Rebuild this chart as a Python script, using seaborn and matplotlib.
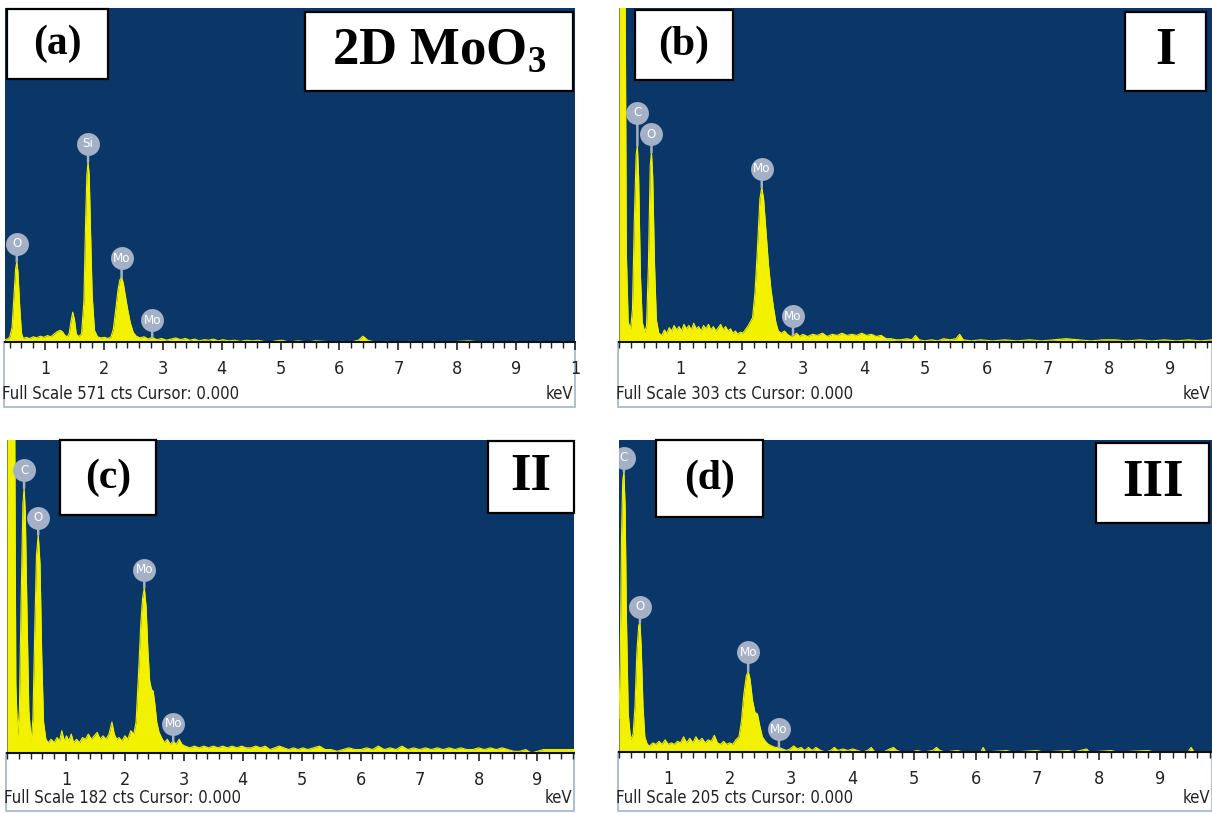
import numpy as np
import pandas as pd
import seaborn as sns
import matplotlib
matplotlib.use("Agg")
import matplotlib.pyplot as plt
from matplotlib.patches import Rectangle
from matplotlib.transforms import offset_copy

# -------------------- dados lidos dos quatro espectros EDS -------------------- #
# (keV, contagens)

a_spectrum = [(0.32, 4), (0.36, 5), (0.40, 8), (0.44, 25), (0.47, 75), (0.50, 125), (0.52, 137), (0.54, 120),
              (0.57, 60), (0.60, 15), (0.63, 6), (0.68, 8), (0.74, 6), (0.80, 9), (0.86, 7), (0.92, 10),
              (0.98, 8), (1.04, 11), (1.10, 9), (1.16, 14), (1.21, 18), (1.26, 20), (1.30, 17), (1.34, 11),
              (1.38, 9), (1.41, 15), (1.44, 35), (1.47, 51), (1.50, 38), (1.53, 14), (1.57, 9), (1.62, 14),
              (1.66, 70), (1.69, 210), (1.71, 285), (1.73, 308), (1.75, 285), (1.77, 200), (1.80, 80),
              (1.84, 20), (1.89, 9), (1.95, 7), (2.01, 8), (2.07, 6), (2.12, 9), (2.16, 22), (2.20, 55),
              (2.24, 90), (2.27, 106), (2.30, 111), (2.33, 100), (2.37, 75), (2.41, 52), (2.45, 32),
              (2.50, 16), (2.55, 10), (2.61, 7), (2.68, 9), (2.75, 5), (2.82, 8), (2.90, 4), (2.98, 6),
              (3.06, 3), (3.14, 5), (3.22, 7), (3.30, 4), (3.38, 6), (3.46, 3), (3.54, 5), (3.62, 2),
              (3.70, 4), (3.78, 3), (3.86, 5), (3.94, 2), (4.02, 4), (4.12, 2), (4.22, 3), (4.32, 1),
              (4.42, 3), (4.52, 2), (4.62, 3), (4.72, 1), (4.82, 0), (4.92, 2), (5.02, 3), (5.15, 0),
              (5.30, 2), (5.45, 0), (5.60, 2), (5.75, 1), (5.90, 0), (6.05, 1), (6.20, 0), (6.32, 3),
              (6.40, 10), (6.48, 3), (6.60, 0), (6.80, 1), (7.00, 0), (7.20, 1), (7.40, 0), (7.60, 1),
              (7.80, 0), (8.00, 1), (8.20, 2), (8.40, 0), (8.60, 1), (8.80, 0), (9.00, 1), (9.20, 0),
              (9.40, 1), (9.60, 0), (9.80, 1), (10.0, 0)]

b_spectrum = [(0.00, 330), (0.10, 330), (0.12, 80), (0.15, 18), (0.19, 12), (0.22, 30), (0.25, 110),
              (0.28, 170), (0.30, 178), (0.32, 150), (0.35, 60), (0.38, 18), (0.42, 9), (0.45, 15),
              (0.48, 70), (0.51, 160), (0.53, 172), (0.55, 150), (0.58, 70), (0.61, 20), (0.65, 8),
              (0.70, 6), (0.74, 11), (0.78, 8), (0.82, 13), (0.86, 10), (0.90, 15), (0.94, 11), (0.98, 14),
              (1.02, 10), (1.06, 16), (1.10, 12), (1.14, 15), (1.18, 11), (1.22, 17), (1.26, 12), (1.30, 14),
              (1.34, 10), (1.38, 15), (1.42, 12), (1.46, 16), (1.50, 11), (1.54, 14), (1.58, 10), (1.62, 13),
              (1.66, 16), (1.70, 11), (1.74, 14), (1.78, 10), (1.82, 12), (1.86, 8), (1.90, 10), (1.94, 7),
              (1.98, 9), (2.02, 8), (2.06, 11), (2.10, 14), (2.14, 18), (2.18, 22), (2.22, 45), (2.26, 85),
              (2.30, 130), (2.33, 140), (2.36, 130), (2.40, 100), (2.44, 70), (2.48, 48), (2.52, 32),
              (2.56, 18), (2.60, 10), (2.65, 8), (2.70, 10), (2.75, 7), (2.80, 5), (2.85, 6), (2.90, 8),
              (2.95, 5), (3.00, 7), (3.08, 5), (3.16, 7), (3.24, 6), (3.32, 8), (3.40, 5), (3.48, 7),
              (3.56, 6), (3.64, 8), (3.72, 6), (3.80, 7), (3.88, 6), (3.96, 8), (4.04, 6), (4.12, 7),
              (4.20, 5), (4.28, 6), (4.36, 3), (4.44, 3), (4.52, 2), (4.60, 2), (4.70, 3), (4.78, 2),
              (4.84, 6), (4.90, 2), (5.00, 1), (5.10, 2), (5.20, 1), (5.30, 3), (5.40, 2), (5.50, 3),
              (5.56, 7), (5.62, 2), (5.75, 1), (5.90, 2), (6.10, 1), (6.30, 2), (6.50, 1), (6.70, 2),
              (6.90, 1), (7.10, 2), (7.30, 3), (7.50, 2), (7.70, 1), (7.90, 2), (8.10, 2), (8.30, 1),
              (8.50, 2), (8.70, 1), (8.90, 2), (9.10, 1), (9.30, 2), (9.50, 1), (9.68, 2)]

c_spectrum = [(0.00, 200), (0.13, 200), (0.15, 40), (0.18, 10), (0.21, 25), (0.24, 90), (0.27, 145),
              (0.29, 154), (0.31, 140), (0.34, 80), (0.37, 25), (0.41, 7), (0.44, 20), (0.47, 70),
              (0.50, 115), (0.53, 127), (0.56, 110), (0.59, 55), (0.62, 18), (0.66, 8), (0.70, 6),
              (0.75, 8), (0.80, 6), (0.85, 9), (0.89, 7), (0.93, 13), (0.97, 7), (1.01, 10), (1.05, 7),
              (1.09, 11), (1.13, 6), (1.18, 8), (1.23, 6), (1.28, 9), (1.33, 8), (1.38, 11), (1.43, 8),
              (1.48, 10), (1.53, 12), (1.58, 8), (1.63, 10), (1.68, 8), (1.73, 11), (1.78, 18), (1.82, 11),
              (1.86, 8), (1.90, 9), (1.95, 7), (2.00, 10), (2.05, 8), (2.10, 13), (2.15, 11), (2.19, 18),
              (2.23, 45), (2.27, 75), (2.30, 90), (2.33, 96), (2.36, 85), (2.39, 60), (2.42, 42),
              (2.45, 37), (2.48, 36), (2.51, 28), (2.54, 18), (2.58, 12), (2.62, 9), (2.67, 6), (2.72, 8),
              (2.77, 5), (2.82, 7), (2.87, 5), (2.92, 8), (2.97, 5), (3.02, 4), (3.10, 3), (3.18, 4),
              (3.26, 3), (3.34, 4), (3.42, 3), (3.50, 4), (3.58, 3), (3.66, 4), (3.74, 3), (3.82, 4),
              (3.90, 3), (3.98, 4), (4.06, 3), (4.14, 3), (4.22, 4), (4.30, 3), (4.38, 4), (4.46, 2),
              (4.54, 3), (4.62, 4), (4.70, 3), (4.78, 2), (4.86, 3), (4.94, 2), (5.02, 3), (5.10, 2),
              (5.20, 3), (5.30, 4), (5.40, 2), (5.50, 2), (5.60, 1), (5.70, 2), (5.80, 3), (5.90, 2),
              (6.00, 2), (6.10, 3), (6.20, 2), (6.30, 4), (6.40, 2), (6.50, 3), (6.60, 2), (6.70, 4),
              (6.80, 2), (6.90, 3), (7.00, 2), (7.10, 3), (7.20, 2), (7.30, 3), (7.40, 2), (7.50, 3),
              (7.60, 2), (7.70, 3), (7.80, 2), (7.90, 2), (8.00, 3), (8.10, 2), (8.20, 3), (8.30, 2),
              (8.40, 3), (8.50, 2), (8.60, 1), (8.70, 1), (8.80, 2), (8.90, 0), (9.00, 1), (9.10, 2),
              (9.20, 2), (9.30, 2), (9.40, 2), (9.50, 2), (9.62, 2)]

d_spectrum = [(0.20, 22), (0.22, 60), (0.24, 140), (0.26, 178), (0.28, 184), (0.30, 160), (0.32, 90),
              (0.35, 25), (0.39, 8), (0.43, 12), (0.46, 30), (0.49, 65), (0.52, 83), (0.54, 85), (0.56, 70),
              (0.59, 30), (0.62, 10), (0.66, 5), (0.70, 4), (0.75, 6), (0.80, 5), (0.85, 7), (0.90, 5),
              (0.95, 8), (1.00, 5), (1.05, 6), (1.10, 5), (1.15, 7), (1.20, 6), (1.25, 10), (1.30, 6),
              (1.35, 9), (1.40, 6), (1.45, 10), (1.50, 7), (1.55, 9), (1.60, 6), (1.65, 8), (1.70, 7),
              (1.75, 11), (1.80, 6), (1.85, 5), (1.90, 7), (1.95, 5), (2.00, 6), (2.05, 5), (2.10, 8),
              (2.15, 10), (2.19, 20), (2.23, 38), (2.27, 50), (2.30, 53), (2.33, 48), (2.37, 34), (2.41, 26),
              (2.45, 25), (2.49, 17), (2.53, 10), (2.58, 7), (2.63, 5), (2.68, 4), (2.74, 3), (2.80, 3),
              (2.86, 2), (2.92, 1), (2.98, 2), (3.04, 4), (3.10, 2), (3.16, 3), (3.22, 1), (3.28, 3),
              (3.34, 1), (3.40, 3), (3.48, 1), (3.56, 0), (3.64, 1), (3.70, 3), (3.76, 1), (3.84, 2),
              (3.92, 1), (4.00, 2), (4.08, 1), (4.16, 0), (4.24, 1), (4.30, 3), (4.36, 0), (4.50, 0),
              (4.60, 2), (4.66, 3), (4.72, 1), (4.80, 0), (4.95, 0), (5.05, 1), (5.15, 0), (5.30, 1),
              (5.36, 3), (5.42, 1), (5.50, 0), (5.70, 1), (5.80, 0), (6.08, 0), (6.12, 3), (6.16, 0),
              (6.50, 1), (6.60, 0), (7.00, 1), (7.10, 0), (7.50, 1), (7.60, 0), (7.80, 2), (7.85, 0),
              (8.20, 1), (8.30, 0), (8.80, 1), (8.90, 0), (9.45, 0), (9.50, 3), (9.55, 0), (9.84, 0)]

# picos identificados (elemento, keV, contagens no topo)
a_peaks = [("O", 0.52, 137), ("Si", 1.73, 308), ("Mo", 2.30, 111), ("Mo", 2.82, 8)]
b_peaks = [("C", 0.30, 178), ("O", 0.53, 172), ("Mo", 2.33, 140), ("Mo", 2.84, 6)]
c_peaks = [("C", 0.29, 154), ("O", 0.53, 127), ("Mo", 2.33, 96), ("Mo", 2.82, 7)]
d_peaks = [("C", 0.28, 184), ("O", 0.54, 85), ("Mo", 2.30, 53), ("Mo", 2.80, 3)]

full_scale = [571, 303, 182, 205]
x_ranges = [(0.32, 10.0), (0.0, 9.68), (0.0, 9.62), (0.2, 9.84)]
panel_tags = ["(a)", "(b)", "(c)", "(d)"]
sample_names = [r"2D MoO$_{\mathbf{3}}$", "I", "II", "III"]

# -------------------- estilo -------------------- #
W, H = 1212, 814
BLUE = "#0a3668"
YELLOW = "#f2f200"
BADGE = "#a3b0c6"
INK = "#222222"

sns.set_theme(style="white")
plt.rcParams["font.family"] = ["DejaVu Sans"]
plt.rcParams["font.stretch"] = "condensed"
plt.rcParams["mathtext.fontset"] = "custom"
plt.rcParams["mathtext.bf"] = "Liberation Serif:bold"
plt.rcParams["mathtext.rm"] = "Liberation Serif:bold"

fig = plt.figure(figsize=(W / 100, H / 100), dpi=100)
fig.patch.set_facecolor("white")


def fx(px):
    return px / W


def fy(py):
    return 1 - py / H


def caixa(x0, y0, x1, y1, texto, tamanho):
    # caixa branca com borda preta e texto em serif negrito
    fig.add_artist(Rectangle((fx(x0), fy(y1)), fx(x1 - x0), (y1 - y0) / H,
                             transform=fig.transFigure, facecolor="white",
                             edgecolor="black", lw=1.6, zorder=5))
    fig.text(fx((x0 + x1) / 2), fy((y0 + y1) / 2), texto, ha="center", va="center",
             family="Liberation Serif", stretch="normal", weight="bold", fontsize=tamanho,
             color="black", zorder=6)


# posicao de cada painel em pixels: x0, x1, topo, base, fim da faixa branca
layout = [(5, 575, 8, 342, 407), (619, 1212, 8, 342, 407),
          (7, 574, 440, 753, 811), (619, 1212, 440, 752, 811)]
badge_offset = [[18, 18, 19, 17], [33, 18, 19, 19], [18, 17, 18, 17], [14, 16, 19, 18]]
tag_boxes = [(7, 9, 108, 79), (635, 10, 733, 80), (60, 440, 156, 515), (656, 440, 763, 517)]
name_boxes = [(305, 12, 573, 91), (1125, 12, 1206, 91), (488, 441, 574, 513), (1096, 443, 1209, 523)]

spectra = [a_spectrum, b_spectrum, c_spectrum, d_spectrum]
peaks = [a_peaks, b_peaks, c_peaks, d_peaks]

for i in range(4):
    x0, x1, top, base, bottom = layout[i]

    # faixa branca com moldura clara
    fig.add_artist(Rectangle((fx(x0 - 1), fy(bottom)), fx(x1 - x0 + 1), (bottom - base) / H,
                             transform=fig.transFigure, facecolor="white",
                             edgecolor="#9fb4d0", lw=1.2, zorder=0))

    ax = fig.add_axes([fx(x0), fy(base), fx(x1 - x0), (base - top) / H])
    ax.set_facecolor(BLUE)

    df = pd.DataFrame(spectra[i], columns=["keV", "cts"])
    ax.fill_between(df["keV"], 0, df["cts"], color=YELLOW, lw=0)
    sns.lineplot(data=df, x="keV", y="cts", color=YELLOW, lw=0.8, sort=False, ax=ax)

    lo, hi = x_ranges[i]
    ax.set_xlim(lo, hi)
    ax.set_ylim(0, full_scale[i])
    ax.set_xlabel("")
    ax.set_ylabel("")
    ax.set_yticks([])

    majors = [k for k in range(1, 11) if lo <= k <= hi + 0.01]
    labels = [str(k) if k < 10 else "1" for k in majors]
    ax.set_xticks(majors, labels=labels)
    ax.set_xticks([m for m in np.arange(0, 10.01, 0.2) if lo <= m <= hi], minor=True)
    ax.tick_params(axis="x", which="major", direction="out", length=6, width=1.2,
                   color=INK, pad=7, labelsize=13, labelcolor=INK, bottom=True)
    ax.tick_params(axis="x", which="minor", direction="out", length=4, width=1.0,
                   color=INK, bottom=True)

    for side in ["top", "left", "right"]:
        ax.spines[side].set_visible(False)
    ax.spines["bottom"].set_color("#111111")
    ax.spines["bottom"].set_linewidth(1.5)

    # marcadores dos elementos: haste + circulo de tamanho fixo
    for (nome, kev, cts), ofs in zip(peaks[i], badge_offset[i]):
        ax.annotate("", xy=(kev, cts), xytext=(0, ofs * 0.72), textcoords="offset points",
                    arrowprops=dict(arrowstyle="-", color=BADGE, lw=1.8, shrinkA=0, shrinkB=0))
        trans = offset_copy(ax.transData, fig=fig, x=0, y=ofs, units="dots")
        ax.plot([kev], [cts], "o", ms=16.5, color=BADGE, mec="none", transform=trans, clip_on=True)
        ax.text(kev, cts, nome, transform=trans, ha="center", va="center", color="white",
                fontsize=9.5, clip_on=True)

    # textos da faixa inferior
    fig.text(fx(x0 - 3), fy(bottom - 13), f"Full Scale {full_scale[i]} cts Cursor: 0.000",
             ha="left", va="center", fontsize=12, color=INK)
    fig.text(fx(x1 - 2), fy(bottom - 13), "keV", ha="right", va="center",
             fontsize=12, color=INK)

    caixa(*tag_boxes[i], panel_tags[i], 30)
    caixa(*name_boxes[i], sample_names[i], 38)

fig.savefig("out.png", dpi=100, facecolor="white")
